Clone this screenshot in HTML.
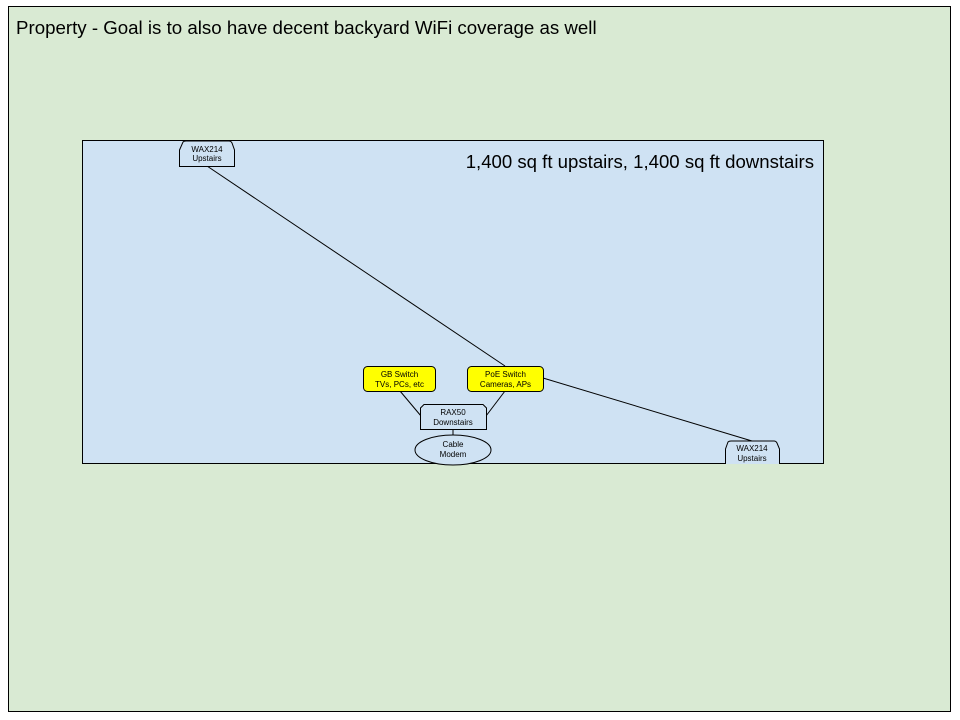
<!DOCTYPE html>
<html><head><style>body{margin:0;background:#fff}svg{display:block}text{font-family:"Liberation Sans",Arial,sans-serif}</style></head>
<body>
<svg width="960" height="720" viewBox="0 0 960 720" xmlns="http://www.w3.org/2000/svg">
<rect x="8.5" y="6.5" width="942" height="705" fill="#d9ead3" stroke="#000" stroke-width="1"/>
<text x="16" y="34" font-size="18.7">Property - Goal is to also have decent backyard WiFi coverage as well</text>
<rect x="82.5" y="140.5" width="741" height="323" fill="#cfe2f3" stroke="#000" stroke-width="1"/>
<text x="814" y="168" font-size="18.6" text-anchor="end">1,400 sq ft upstairs, 1,400 sq ft downstairs</text>
<g stroke="#000" stroke-width="1" fill="none">
<line x1="207" y1="166" x2="505" y2="366"/>
<line x1="543" y1="378" x2="752" y2="441"/>
<line x1="400" y1="391" x2="421" y2="416"/>
<line x1="505" y1="391" x2="486" y2="416"/>
<line x1="453" y1="429" x2="453" y2="435"/>
</g>
<path d="M179.5,166.5 L179.5,150 L183,142 Q184,141 186,141 L229,141 Q231,141 232,143 L234.5,150 L234.5,166.5 Z" fill="#cfe2f3" stroke="#000"/>
<text x="207" y="152" font-size="8" text-anchor="middle">WAX214</text>
<text x="207" y="161" font-size="8" text-anchor="middle">Upstairs</text>
<rect x="363.5" y="366.5" width="72" height="25" rx="4" fill="#ffff00" stroke="#000"/>
<text x="399.5" y="377" font-size="8" text-anchor="middle">GB Switch</text>
<text x="399.5" y="387" font-size="8" text-anchor="middle">TVs, PCs, etc</text>
<rect x="467.5" y="366.5" width="76" height="25" rx="4" fill="#ffff00" stroke="#000"/>
<text x="505.5" y="377" font-size="8" text-anchor="middle">PoE Switch</text>
<text x="505.5" y="387" font-size="8" text-anchor="middle">Cameras, APs</text>
<path d="M420.5,429.5 L420.5,408 L424,404.5 L483,404.5 L486.5,408 L486.5,429.5 Z" fill="#cfe2f3" stroke="#000"/>
<text x="453" y="415" font-size="8" text-anchor="middle">RAX50</text>
<text x="453" y="425" font-size="8" text-anchor="middle">Downstairs</text>
<ellipse cx="453" cy="450" rx="38" ry="15" fill="#cfe2f3" stroke="#000"/>
<text x="453" y="447" font-size="8" text-anchor="middle">Cable</text>
<text x="453" y="457" font-size="8" text-anchor="middle">Modem</text>
<path d="M725.5,464 L725.5,449 L728,442 Q729,441 731,441 L774,441 Q776,441 777,443 L779.5,449 L779.5,464" fill="#cfe2f3" stroke="#000"/>
<text x="752" y="451" font-size="8" text-anchor="middle">WAX214</text>
<text x="752" y="461" font-size="8" text-anchor="middle">Upstairs</text>
</svg>
</body></html>
